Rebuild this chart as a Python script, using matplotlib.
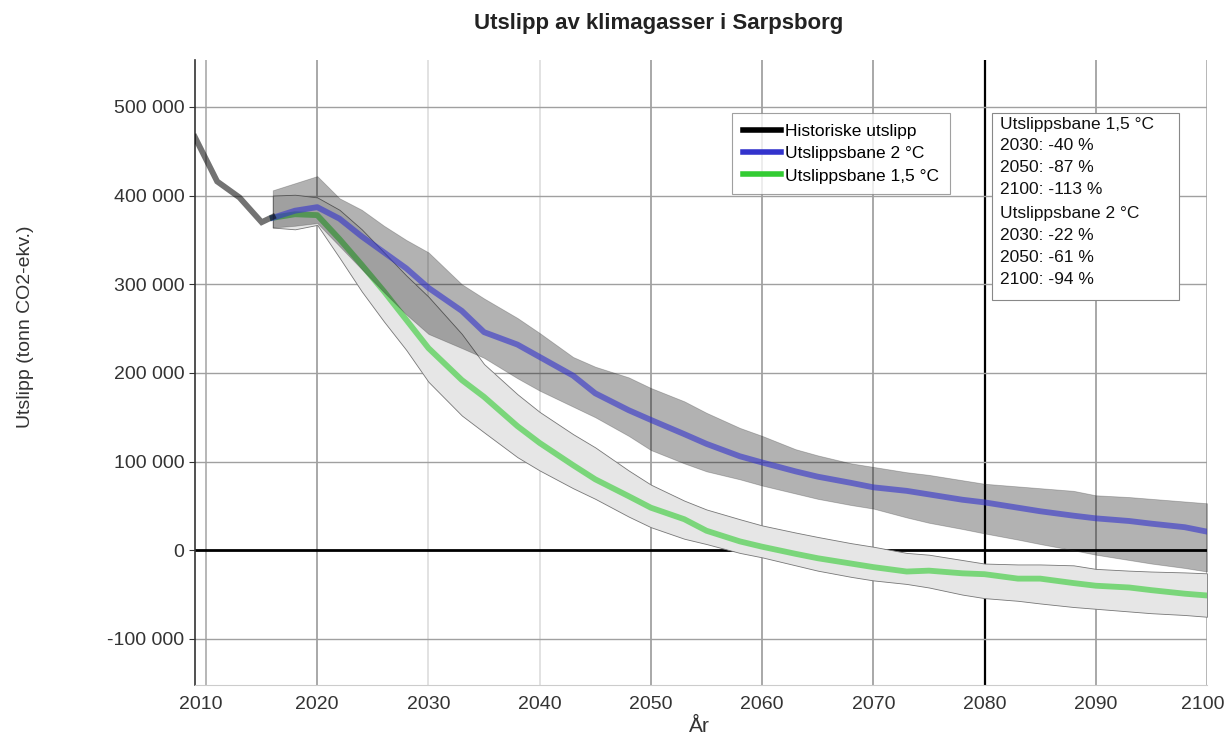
import matplotlib
matplotlib.use("Agg")
import matplotlib.pyplot as plt
from matplotlib.lines import Line2D
from matplotlib.patches import Rectangle
from matplotlib.transforms import ScaledTranslation
import numpy as np

plt.rcParams['font.family'] = ['Liberation Sans', 'DejaVu Sans']

# historiske utslipp (tonn CO2-ekv.)
hist_years = [2009, 2011, 2013, 2015, 2016]
hist_vals = [466000, 416000, 398000, 370000, 376000]

# framskrivinger
years = [2016, 2018, 2020, 2022, 2024, 2026, 2028, 2030, 2033, 2035, 2038, 2040,
         2043, 2045, 2048, 2050, 2053, 2055, 2058, 2060, 2063, 2065, 2068, 2070,
         2073, 2075, 2078, 2080, 2083, 2085, 2088, 2090, 2093, 2095, 2098, 2100]

bane_2 = [375, 383, 387, 374, 354, 336, 318, 296, 270, 246, 232, 218,
          197, 177, 158, 147, 131, 120, 106, 99, 89, 83, 76, 71,
          67, 63, 57, 54, 48, 44, 39, 36, 33, 30, 26, 21]
bane_2_hi = [406, 414, 422, 397, 384, 366, 350, 336, 300, 284, 262, 245,
             218, 207, 195, 183, 168, 155, 138, 129, 114, 107, 98, 94,
             88, 85, 79, 75, 72, 70, 67, 62, 60, 58, 55, 53]
bane_2_lo = [364, 366, 369, 343, 317, 291, 266, 244, 228, 217, 194, 180,
             162, 150, 129, 113, 98, 89, 80, 73, 64, 58, 51, 47,
             37, 31, 24, 19, 12, 7, 0, -5, -11, -15, -20, -24]

bane_15 = [375, 379, 378, 351, 322, 292, 260, 228, 192, 173, 140, 121,
           96, 80, 61, 48, 35, 22, 10, 4, -4, -9, -15, -19,
           -24, -23, -26, -27, -32, -32, -37, -40, -42, -45, -49, -51]
bane_15_hi = [400, 401, 398, 384, 362, 336, 310, 286, 244, 210, 176, 156,
              131, 116, 90, 74, 56, 46, 35, 28, 20, 15, 8, 4,
              -3, -5, -11, -15, -16, -16, -17, -21, -23, -24, -25, -26]
bane_15_lo = [364, 362, 367, 330, 292, 258, 226, 190, 152, 133, 105, 90,
              70, 58, 38, 26, 13, 7, -3, -8, -17, -23, -30, -34,
              -38, -42, -50, -54, -57, -60, -64, -66, -69, -71, -73, -75]

info_lines = ["Utslippsbane 1,5 °C", "2030: -40 %", "2050: -87 %", "2100: -113 %",
              "Utslippsbane 2 °C", "2030: -22 %", "2050: -61 %", "2100: -94 %"]

k = 1000
yrs = np.array(years)
b2 = np.array(bane_2) * k
b2h = np.array(bane_2_hi) * k
b2l = np.array(bane_2_lo) * k
b15 = np.array(bane_15) * k
b15h = np.array(bane_15_hi) * k
b15l = np.array(bane_15_lo) * k

fig = plt.figure(figsize=(12.25, 7.35), dpi=100)
ax = fig.add_axes([0.1591, 0.068, 0.8262, 0.8504])

ax.set_xlim(2009, 2100)
ax.set_ylim(-152000, 553000)

# rutenett
grid_col = {2010: '#aaaaaa', 2020: '#999999', 2030: '#dddddd', 2040: '#dddddd',
            2050: '#999999', 2060: '#999999', 2070: '#999999', 2080: '#000000',
            2090: '#999999', 2100: '#aaaaaa'}
for yr, c in grid_col.items():
    ax.axvline(yr, color=c, lw=1.6 if yr == 2080 else 1.2, zorder=0)
for v in range(-100000, 600000, 100000):
    if v == 0:
        continue
    ax.axhline(v, color='#a0a0a0', lw=1.0, zorder=0)
ax.axhline(0, color='black', lw=2, zorder=0.5)

# baner
ax.fill_between(yrs, b15l, b15h, facecolor='#e6e6e6', edgecolor='#777777', lw=0.6, zorder=1)
ax.plot(yrs, b15, color='#33cc33', alpha=0.6, lw=4.2, zorder=2)
ax.fill_between(yrs, b2l, b2h, facecolor='black', alpha=0.3, edgecolor='#333333', lw=0.6, zorder=3)
ax.plot(yrs, b2, color='#3333cc', alpha=0.6, lw=4.2, zorder=4)
ax.plot(hist_years, np.array(hist_vals), color='black', alpha=0.55, lw=4.2,
        solid_joinstyle='miter', zorder=5)

ax.set_xticks(range(2010, 2101, 10))
ax.set_yticks(range(-100000, 500001, 100000))
ax.set_yticklabels([f"{v:,}".replace(",", " ") for v in range(-100000, 500001, 100000)])
ax.tick_params(axis='both', labelsize=14, colors='#333333', length=4, width=0.8)
ax.tick_params(axis='x', length=0, pad=8)

# første og siste årstall flyttes litt innover
xlabs = ax.get_xticklabels()
xlabs[0].set_transform(xlabs[0].get_transform() + ScaledTranslation(-0.05, 0, fig.dpi_scale_trans))
xlabs[-1].set_transform(xlabs[-1].get_transform() + ScaledTranslation(-0.04, 0, fig.dpi_scale_trans))

for s in ['top', 'right']:
    ax.spines[s].set_visible(False)
ax.spines['left'].set_color('#333333')
ax.spines['left'].set_linewidth(1.2)
ax.spines['bottom'].set_color('#cccccc')

# forklaring
handles = [Line2D([], [], color='black', lw=4),
           Line2D([], [], color='#3333cc', lw=4),
           Line2D([], [], color='#33cc33', lw=4)]
labels = ["Historiske utslipp", "Utslippsbane 2 °C", "Utslippsbane 1,5 °C"]
leg = ax.legend(handles, labels, loc='upper left', bbox_to_anchor=(0.531, 0.915),
                borderaxespad=0, fontsize=12.5, frameon=True, fancybox=False,
                handlelength=2.2, handletextpad=0.25, labelspacing=0.42,
                borderpad=0.6)
leg.get_frame().set_edgecolor('#888888')
leg.get_frame().set_linewidth(0.8)
leg.set_zorder(10)

# tekstboks
box = Rectangle((0.788, 0.616), 0.184, 0.299, transform=ax.transAxes,
                facecolor='white', edgecolor='#888888', lw=0.8, zorder=10)
ax.add_patch(box)
ypix = [125, 146, 168, 190, 214, 236, 258, 280]
for txt, yp in zip(info_lines, ypix):
    ax.text(0.795, 1 - (yp - 60) / 625, txt, transform=ax.transAxes,
            fontsize=12.5, va='center', ha='left', color='#111111', zorder=11)

fig.text(0.538, 0.968, "Utslipp av klimagasser i Sarpsborg", fontsize=16,
         fontweight='bold', ha='center', va='center', color='#222222')
fig.text(0.021, 0.555, "Utslipp (tonn CO2-ekv.)", rotation=90, fontsize=14,
         ha='center', va='center', color='#333333')
fig.text(0.571, 0.012, "År", fontsize=15, ha='center', va='center', color='#333333')

fig.savefig("out.png", dpi=100)
